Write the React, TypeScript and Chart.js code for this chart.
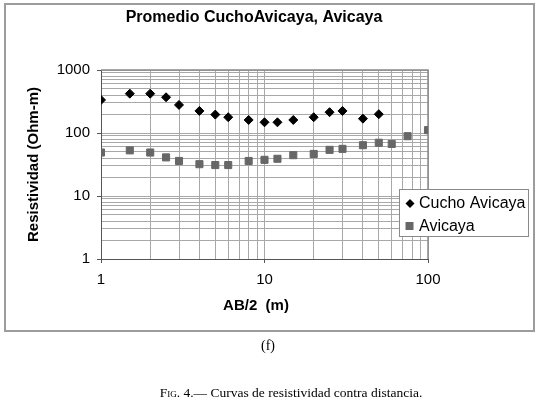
import React, { useEffect, useRef } from 'react';
import { Chart, registerables } from 'chart.js';

Chart.register(...registerables);

// ---- data ----
const chartTitle = 'Promedio CuchoAvicaya, Avicaya';
const xAxisTitle = 'AB/2  (m)';
const yAxisTitle = 'Resistividad (Ohm-m)';
const seriesNames = ['Cucho Avicaya', 'Avicaya'];

const cuchoDistances = [1, 1.5, 2, 2.5, 3, 4, 5, 6, 8, 10, 12, 15, 20, 25, 30, 40, 50];
const cuchoResistivity = [335, 421, 421, 369, 279, 224, 196, 178, 161, 148, 148, 161, 178, 214, 224, 169, 199];

const avicayaDistances = [1, 1.5, 2, 2.5, 3, 4, 5, 6, 8, 10, 12, 15, 20, 25, 30, 40, 50, 60, 75, 100];
const avicayaResistivity = [49, 53, 49, 41, 36, 32, 31, 31, 36, 37.5, 39, 44.5, 46.5, 54, 56, 64, 70, 67, 89, 111];

const xGridValues = [1, 2, 3, 4, 5, 6, 7, 8, 9, 10, 20, 30, 40, 50, 60, 70, 80, 90, 100];
const yGridValues = [1, 2, 3, 4, 5, 6, 7, 8, 9, 10, 20, 30, 40, 50, 60, 70, 80, 90, 100, 200, 300, 400, 500, 600, 700, 800, 900, 1000];
const xTickLabels = [1, 10, 100];
const yTickLabels = [1, 10, 100, 1000];

const FONT = '"Liberation Sans", Arial, sans-serif';
const GRID = '#a8a8a8';
const AXIS = '#555555';
const DIAMOND = '#000000';
const SQUARE = '#676767';

const labelFor = (list: number[]) => (value: any) => {
  const v = Number(value);
  return list.some((t) => Math.abs(t - v) < 1e-9) ? String(v) : '';
};
const majorColor = (list: number[]) => (ctx: any) => {
  const v = ctx.tick ? ctx.tick.value : NaN;
  return list.some((t) => Math.abs(t - v) < 1e-9) ? AXIS : 'rgba(0,0,0,0)';
};

const decorPlugin = {
  id: 'decor',
  beforeDatasetsDraw(chart: any) {
    const { ctx, chartArea: a } = chart;
    ctx.save();
    ctx.strokeStyle = '#8a8a8a';
    ctx.lineWidth = 1.5;
    ctx.beginPath();
    ctx.moveTo(a.left, a.top);
    ctx.lineTo(a.right, a.top);
    ctx.lineTo(a.right, a.bottom);
    ctx.stroke();
    ctx.restore();
  },
  afterDraw(chart: any) {
    const { ctx } = chart;
    ctx.save();
    ctx.fillStyle = '#000';
    ctx.textAlign = 'center';
    ctx.textBaseline = 'middle';
    ctx.font = `bold 16px ${FONT}`;
    ctx.fillText(chartTitle, 254, 18);
    ctx.font = `bold 15px ${FONT}`;
    ctx.fillText(xAxisTitle, 256, 306);

    // legend
    const bx = 399.5, by = 189.5, bw = 129, bh = 47;
    ctx.fillStyle = '#fff';
    ctx.fillRect(bx, by, bw, bh);
    ctx.strokeStyle = '#8a8a8a';
    ctx.lineWidth = 1;
    ctx.strokeRect(bx, by, bw, bh);

    const y1 = 203.5, y2 = 226;
    ctx.fillStyle = DIAMOND;
    ctx.beginPath();
    ctx.moveTo(410, y1 - 4.5);
    ctx.lineTo(414.5, y1);
    ctx.lineTo(410, y1 + 4.5);
    ctx.lineTo(405.5, y1);
    ctx.closePath();
    ctx.fill();
    ctx.fillStyle = SQUARE;
    ctx.fillRect(405.5, y2 - 4, 8, 8);

    ctx.fillStyle = '#000';
    ctx.textAlign = 'left';
    ctx.font = `16px ${FONT}`;
    ctx.fillText(seriesNames[0], 419, y1 + 0.5);
    ctx.fillText(seriesNames[1], 419, y2 + 0.5);
    ctx.restore();
  },
};

export default function App() {
  const ref = useRef<HTMLCanvasElement | null>(null);

  useEffect(() => {
    if (!ref.current) return;
    const chart = new Chart(ref.current, {
      type: 'scatter',
      data: {
        datasets: [
          {
            label: seriesNames[0],
            data: cuchoDistances.map((x, i) => ({ x, y: cuchoResistivity[i] })),
            pointStyle: 'rectRot',
            pointRadius: 4.5,
            pointBorderWidth: 1,
            backgroundColor: DIAMOND,
            borderColor: DIAMOND,
            showLine: false,
          },
          {
            label: seriesNames[1],
            data: avicayaDistances.map((x, i) => ({ x, y: avicayaResistivity[i] })),
            pointStyle: 'rect',
            pointRadius: 5,
            pointBorderWidth: 1,
            backgroundColor: SQUARE,
            borderColor: SQUARE,
            showLine: false,
          },
        ],
      },
      options: {
        animation: false,
        responsive: false,
        layout: { padding: { left: 21, right: 111, top: 70, bottom: 118 } },
        plugins: {
          legend: { display: false },
          title: { display: false },
          tooltip: { enabled: false },
        },
        scales: {
          x: {
            type: 'logarithmic',
            min: 1,
            max: 100,
            afterBuildTicks: (s: any) => {
              s.ticks = xGridValues.map((v) => ({ value: v }));
            },
            afterFit: (s: any) => {
              s.height = 30;
            },
            ticks: {
              autoSkip: false,
              maxRotation: 0,
              minRotation: 0,
              padding: 8,
              color: '#000',
              font: { family: FONT, size: 15 },
              callback: labelFor(xTickLabels),
            },
            grid: { color: GRID, lineWidth: 1, tickLength: 4, tickColor: majorColor(xTickLabels) },
            border: { color: AXIS, width: 1 },
          },
          y: {
            type: 'logarithmic',
            min: 1,
            max: 1000,
            afterBuildTicks: (s: any) => {
              s.ticks = yGridValues.map((v) => ({ value: v }));
            },
            afterFit: (s: any) => {
              s.width = 80;
            },
            title: {
              display: true,
              text: yAxisTitle,
              color: '#000',
              font: { family: FONT, size: 15, weight: 'bold' },
              padding: { top: 4, bottom: 4 },
            },
            ticks: {
              autoSkip: false,
              padding: 7,
              color: '#000',
              font: { family: FONT, size: 15 },
              callback: labelFor(yTickLabels),
            },
            grid: { color: GRID, lineWidth: 1, tickLength: 4, tickColor: majorColor(yTickLabels) },
            border: { color: AXIS, width: 1 },
          },
        },
      },
      plugins: [decorPlugin],
    } as any);
    return () => chart.destroy();
  }, []);

  return (
    <div style={{ position: 'absolute', left: 0, top: 0, width: 539, height: 407, background: '#fff' }}>
      <div
        style={{
          position: 'absolute',
          left: 4,
          top: 3,
          width: 531,
          height: 329,
          boxSizing: 'border-box',
          border: '2px solid #9c9c9c',
        }}
      />
      <canvas
        ref={ref}
        width={539}
        height={407}
        style={{ position: 'absolute', left: 0, top: 0, display: 'block' }}
      />
      <div
        style={{
          position: 'absolute',
          left: 218,
          top: 336,
          width: 100,
          height: 20,
          lineHeight: '20px',
          textAlign: 'center',
          fontFamily: '"Liberation Serif", "Times New Roman", serif',
          fontSize: 14,
          color: '#000',
        }}
      >
        (f)
      </div>
      <div
        style={{
          position: 'absolute',
          left: 91,
          top: 383,
          width: 400,
          height: 20,
          lineHeight: '20px',
          textAlign: 'center',
          fontFamily: '"Liberation Serif", "Times New Roman", serif',
          fontSize: 13.5,
          color: '#000',
          whiteSpace: 'nowrap',
        }}
      >
        <span style={{ fontVariant: 'small-caps' }}>Fig. 4.</span>— Curvas de resistividad contra distancia.
      </div>
    </div>
  );
}
